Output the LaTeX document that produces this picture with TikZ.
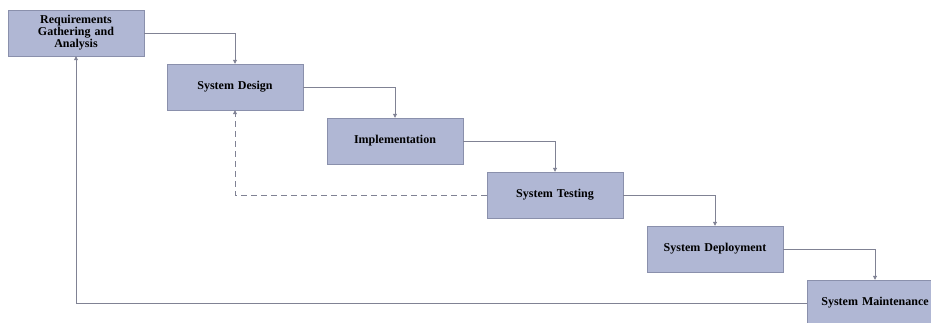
\documentclass[tikz,border=0pt]{standalone}
\usepackage{fontspec}
\setmainfont{Liberation Serif}
\usetikzlibrary{arrows.meta}

\definecolor{boxfill}{RGB}{176,183,212}
\definecolor{boxline}{RGB}{138,144,172}
\definecolor{linkgray}{RGB}{128,130,148}

\tikzset{
	phase/.style={draw=boxline, fill=boxfill, minimum width=136pt, minimum height=46pt,
		text width=130pt, align=center, font=\fontsize{12}{12}\selectfont\bfseries, inner sep=0pt},
	link/.style={draw=linkgray, line width=0.8pt, -{Triangle[length=4pt, width=4pt]}}
}

\begin{document}
\begin{tikzpicture}[x=1pt, y=-1pt]
			\useasboundingbox (0,0) rectangle (931,323);

			\node[phase] (req) at (76,33) {Requirements\\Gathering and\\Analysis};
			\node[phase] (design) at (235,87) {System Design};
			\node[phase] (impl) at (395,141) {Implementation};
			\node[phase] (test) at (555,195) {System Testing};
			\node[phase] (deploy) at (715,249) {System Deployment};
			\node[phase] (maint) at (875,303) {System Maintenance};

			\draw[link] (req.east) -| (design.north);
			\draw[link] (design.east) -| (impl.north);
			\draw[link] (impl.east) -| (test.north);
			\draw[link] (test.east) -| (deploy.north);
			\draw[link] (deploy.east) -| (maint.north);

			\draw[link, dashed, dash pattern=on 6pt off 4pt] (test.west) -| (design.south);
			\draw[link] (maint.west) -| (req.south);
		\end{tikzpicture}
\end{document}
